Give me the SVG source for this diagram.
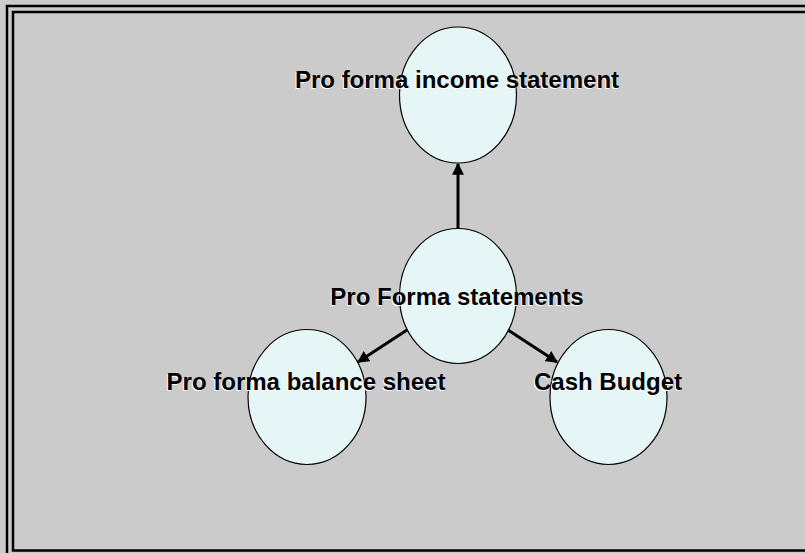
<svg xmlns="http://www.w3.org/2000/svg" width="805" height="553" viewBox="0 0 805 553">
<style>
.frame{fill:none;stroke:#000;stroke-width:2.5}
.node{fill:#E6F5F5;stroke:#000;stroke-width:1.2}
.lbl{font-family:"Liberation Sans",Arial,sans-serif;font-weight:bold;font-size:24px;text-anchor:middle}
.sh{fill:#FFFFFF}
.tx{fill:#000000}
.edge{stroke:#000;stroke-width:3;fill:none}
</style>
<defs>
<marker id="arr" viewBox="0 0 10 10" refX="9" refY="5" markerWidth="4" markerHeight="4" orient="auto" markerUnits="strokeWidth">
<path d="M0,0 L10,5 L0,10 z" fill="#000"/>
</marker>
</defs>
<rect x="0" y="0" width="805" height="553" fill="#CBCBCB"/>
<rect class="frame" x="7" y="6" width="810" height="551"/>
<rect class="frame" x="13" y="12" width="800" height="538.5"/>
<g id="connectors">
<line class="edge" x1="458" y1="228" x2="458" y2="164" marker-end="url(#arr)"/>
<line class="edge" x1="407" y1="330" x2="358" y2="362" marker-end="url(#arr)"/>
<line class="edge" x1="508" y1="330" x2="557" y2="362" marker-end="url(#arr)"/>
</g>
<g id="income">
<ellipse class="node" cx="458" cy="95" rx="58.5" ry="68"/>
<text class="lbl sh" x="456" y="89">Pro forma income statement</text>
<text class="lbl tx" x="457" y="88">Pro forma income statement</text>
</g>
<g id="proforma">
<ellipse class="node" cx="458" cy="296" rx="58.5" ry="67.5"/>
<text class="lbl sh" x="456" y="306">Pro Forma statements</text>
<text class="lbl tx" x="457" y="305">Pro Forma statements</text>
</g>
<g id="balance">
<ellipse class="node" cx="307" cy="397" rx="59" ry="67.5"/>
<text class="lbl sh" x="305" y="391">Pro forma balance sheet</text>
<text class="lbl tx" x="306" y="390">Pro forma balance sheet</text>
</g>
<g id="cash">
<ellipse class="node" cx="608.5" cy="397" rx="58.5" ry="67.5"/>
<text class="lbl sh" x="607" y="391">Cash Budget</text>
<text class="lbl tx" x="608" y="390">Cash Budget</text>
</g>
</svg>
